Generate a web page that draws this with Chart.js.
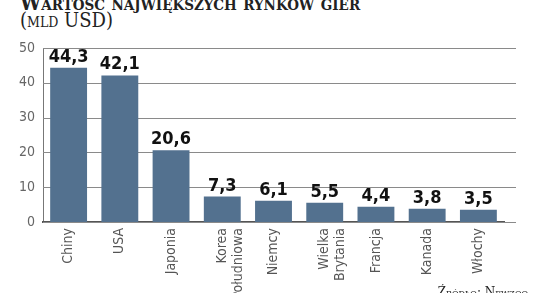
<!DOCTYPE html>
<html lang="pl">
<head>
  <meta charset="UTF-8" />
  <title>Wartość największych rynków gier</title>
  <script src="https://cdn.jsdelivr.net/npm/chart.js"></script>
  <style>
    html, body { margin: 0; padding: 0; background: #fff; }
    .wrap { position: relative; width: 536px; height: 293px; overflow: hidden; }
    .title {
      position: absolute; left: 20px; top: -10px; margin: 0;
      font-family: 'DejaVu Serif Condensed', 'DejaVu Serif', serif; font-weight: bold; font-variant: small-caps;
      font-size: 21px; color: #222; white-space: nowrap;
    }
    .unit {
      position: absolute; left: 20px; top: 8px; margin: 0;
      font-family: 'DejaVu Serif Condensed', 'DejaVu Serif', serif; font-variant: small-caps;
      font-size: 20px; color: #222; white-space: nowrap;
    }
    .source {
      position: absolute; right: 8px; bottom: -6px; margin: 0;
      font-family: 'DejaVu Serif', serif; font-variant: small-caps;
      font-size: 12px; color: #222; white-space: nowrap;
    }
    #chart { position: absolute; left: 0; top: 0; }
  </style>
</head>
<body>
  <div class="wrap">
    <p class="title">Wartość największych rynków gier</p>
    <p class="unit">(mld USD)</p>
    <canvas id="chart" width="536" height="293"></canvas>
    <p class="source">Źródło: Newzoo</p>
  </div>

  <script>
    // dane
    const countries = ["Chiny", "USA", "Japonia", ["Korea", "Południowa"], "Niemcy", ["Wielka", "Brytania"], "Francja", "Kanada", "Włochy"];
    const marketValues = [44.3, 42.1, 20.6, 7.3, 6.1, 5.5, 4.4, 3.8, 3.5];
    const yTicks = [0, 10, 20, 30, 40, 50];

    const condensed = "'DejaVu Sans Condensed', 'Liberation Sans Narrow', sans-serif";

    // linie siatki wychodzace troche za ostatni slupek
    const gridPlugin = {
      id: "grid",
      beforeDatasetsDraw(chart) {
        const { ctx, chartArea, scales } = chart;
        ctx.save();
        ctx.strokeStyle = "#8a8a8a";
        ctx.lineWidth = 1;
        yTicks.forEach(t => {
          const y = Math.round(scales.y.getPixelForValue(t)) + 0.5;
          ctx.beginPath();
          ctx.moveTo(chartArea.left, y);
          ctx.lineTo(chartArea.right + 12, y);
          ctx.stroke();
        });
        ctx.restore();
      }
    };

    // wartosci nad slupkami
    const valueLabels = {
      id: "valueLabels",
      afterDatasetsDraw(chart) {
        const { ctx } = chart;
        const meta = chart.getDatasetMeta(0);
        ctx.save();
        ctx.font = "bold 18px " + condensed;
        ctx.fillStyle = "#111";
        ctx.textAlign = "center";
        ctx.textBaseline = "alphabetic";
        meta.data.forEach((bar, i) => {
          const txt = marketValues[i].toFixed(1).replace(".", ",");
          ctx.fillText(txt, bar.x, bar.y - 6);
        });
        ctx.restore();
      }
    };

    new Chart(document.getElementById("chart"), {
      type: "bar",
      data: {
        labels: countries,
        datasets: [{
          data: marketValues,
          backgroundColor: "#53718f",
          categoryPercentage: 0.72,
          barPercentage: 1
        }]
      },
      options: {
        responsive: false,
        animation: false,
        layout: { padding: { top: 48, right: 32, left: 0, bottom: 0 } },
        plugins: {
          legend: { display: false },
          tooltip: { enabled: false }
        },
        scales: {
          y: {
            min: 0, max: 50,
            afterFit(scale) { scale.width = 43; },
            ticks: {
              stepSize: 10,
              color: "#666",
              padding: 8,
              font: { family: condensed, size: 14 }
            },
            grid: { display: false, drawTicks: false },
            border: { display: true, color: "#777", width: 1 }
          },
          x: {
            afterFit(scale) { scale.height = 71; },
            ticks: {
              color: "#555",
              minRotation: 90,
              maxRotation: 90,
              padding: 6,
              autoSkip: false,
              font: { family: condensed, size: 14, lineHeight: 1.15 }
            },
            grid: { display: false, drawTicks: false },
            border: { display: true, color: "#555", width: 2 }
          }
        }
      },
      plugins: [gridPlugin, valueLabels]
    });
  </script>
</body>
</html>
